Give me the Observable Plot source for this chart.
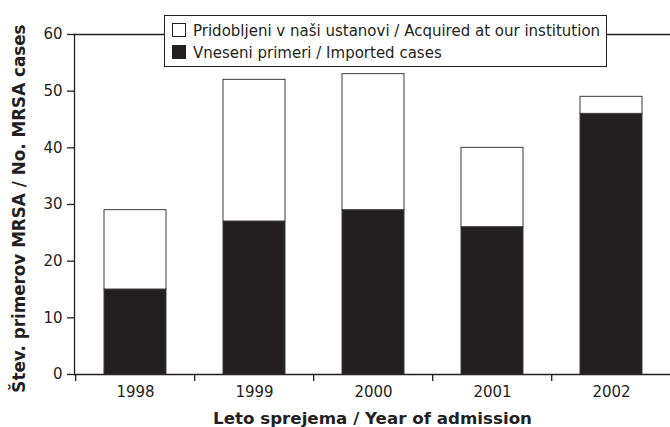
<!DOCTYPE html>
<html><head><meta charset="utf-8">
<script src="https://cdn.jsdelivr.net/npm/d3@7"></script>
<script src="https://cdn.jsdelivr.net/npm/@observablehq/plot@0.6"></script>
<style>
body{margin:0;background:#fff;font-family:"DejaVu Sans",sans-serif;}
#wrap{position:relative;width:670px;height:427px;overflow:hidden;}
#legend{position:absolute;left:164px;top:15px;width:443px;height:52px;border:1.3px solid #231f20;background:#fff;box-sizing:border-box;font-size:15px;color:#231f20;padding:4px 0 0 7px;line-height:22px;white-space:nowrap;}
.sw{display:inline-block;width:14px;height:14px;border:1.3px solid #231f20;box-sizing:border-box;margin-right:7px;vertical-align:-1px;}
</style></head>
<body><div id="wrap"><div id="legend"></div></div>
<script>
const years = ["1998","1999","2000","2001","2002"];
const imported = [15, 27, 29, 26, 46];
const acquired = [14, 25, 24, 14, 3];
const seriesNames = ["Vneseni primeri / Imported cases", "Pridobljeni v naši ustanovi / Acquired at our institution"];
const seriesColors = ["#231f20", "#ffffff"];
const yTicks = [0, 10, 20, 30, 40, 50, 60];

const data = [];
years.forEach((y, i) => {
  data.push({year: y, series: seriesNames[0], value: imported[i]});
  data.push({year: y, series: seriesNames[1], value: acquired[i]});
});

const ink = "#231f20";
const chart = Plot.plot({
  width: 670, height: 427,
  marginLeft: 74, marginTop: 34, marginBottom: 53, marginRight: 0,
  style: {fontFamily: "'DejaVu Sans', sans-serif", fontSize: "15px", color: ink, background: "#fff"},
  x: {domain: years, range: [74, 672], paddingInner: 0.48, paddingOuter: 0.24, label: null},
  y: {domain: [0, 60], ticks: yTicks, label: null},
  color: {domain: seriesNames, range: seriesColors},
  marks: [
    Plot.barY(data, {x: "year", y: "value", fill: "series", stroke: "#3a3a3a", strokeWidth: 1, order: seriesNames}),
    Plot.ruleY([0, 60], {stroke: ink, strokeWidth: 1.3}),
    Plot.frame({anchor: "left", stroke: ink, strokeWidth: 1.3}),
    Plot.axisY({ticks: yTicks, tickSize: 7, tickPadding: 5, stroke: ink, strokeWidth: 1.3, fill: ink, fontSize: 15, label: null}),
    Plot.axisX({tickSize: 0, tickPadding: 12, fill: ink, fontSize: 15, label: null}),
    Plot.ruleX(years, {x: d => d, dx: -59.8, y1: 0, y2: 0, insetBottom: -7, stroke: ink, strokeWidth: 1.3}),
    Plot.text(["Leto sprejema / Year of admission"], {frameAnchor: "bottom", dy: 49, fontSize: 16.7, fontWeight: "bold", fill: ink}),
    Plot.text(["Štev. primerov MRSA / No. MRSA cases"], {frameAnchor: "left", textAnchor: "middle", lineAnchor: "middle", dx: -55, dy: 4, rotate: -90, fontSize: 16.8, fontWeight: "bold", fill: ink})
  ]
});
document.getElementById("wrap").prepend(chart);
const lg = document.getElementById("legend");
[1, 0].forEach(i => {
  const row = document.createElement("div");
  row.innerHTML = `<span class="sw" style="background:${seriesColors[i]}"></span>${seriesNames[i]}`;
  lg.appendChild(row);
});
</script></body></html>
